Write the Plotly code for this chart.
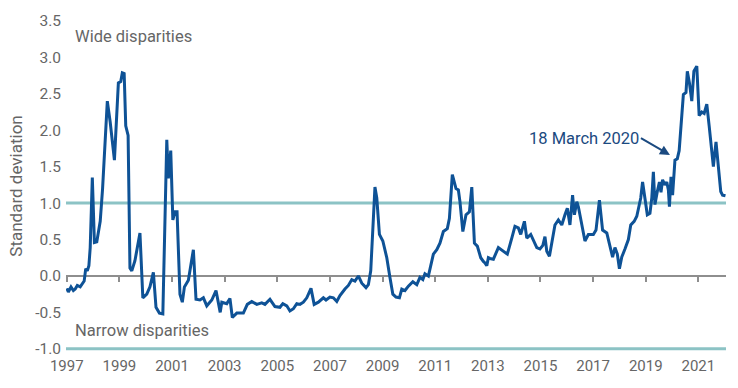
import plotly.graph_objects as go

# Decimal-year dates and standard-deviation values
dates = [
    1997.00, 1997.06, 1997.16, 1997.25, 1997.32, 1997.40, 1997.51, 1997.59, 1997.66, 1997.72,
    1997.78, 1997.84, 1997.89, 1997.97, 1998.05, 1998.14, 1998.27, 1998.36, 1998.54, 1998.65,
    1998.81, 1998.96, 1999.05, 1999.11, 1999.18, 1999.24, 1999.33, 1999.40, 1999.47, 1999.59,
    1999.78, 1999.89, 2000.04, 2000.16, 2000.29, 2000.39, 2000.52, 2000.65, 2000.80, 2000.86,
    2000.95, 2001.03, 2001.11, 2001.19, 2001.30, 2001.39, 2001.47, 2001.62, 2001.81, 2001.91,
    2002.06, 2002.19, 2002.32, 2002.51, 2002.67, 2002.83, 2002.89, 2003.08, 2003.20, 2003.29,
    2003.46, 2003.71, 2003.86, 2004.03, 2004.22, 2004.41, 2004.53, 2004.72, 2004.91, 2005.10,
    2005.21, 2005.36, 2005.48, 2005.61, 2005.74, 2005.86, 2005.99, 2006.12, 2006.28, 2006.40,
    2006.56, 2006.75, 2006.85, 2007.00, 2007.13, 2007.26, 2007.38, 2007.57, 2007.70, 2007.83,
    2007.95, 2008.08, 2008.21, 2008.37, 2008.46, 2008.55, 2008.63, 2008.71, 2008.78, 2008.88,
    2009.01, 2009.16, 2009.28, 2009.39, 2009.51, 2009.64, 2009.73, 2009.85, 2009.98, 2010.15,
    2010.30, 2010.42, 2010.53, 2010.61, 2010.74, 2010.83, 2010.93, 2011.06, 2011.18, 2011.31,
    2011.46, 2011.54, 2011.65, 2011.79, 2011.88, 2011.94, 2012.05, 2012.17, 2012.30, 2012.39,
    2012.49, 2012.60, 2012.73, 2012.83, 2012.89, 2012.96, 2013.02, 2013.08, 2013.21, 2013.40,
    2013.59, 2013.74, 2013.91, 2014.03, 2014.16, 2014.25, 2014.39, 2014.48, 2014.63, 2014.73,
    2014.86, 2014.98, 2015.09, 2015.17, 2015.24, 2015.34, 2015.43, 2015.55, 2015.68, 2015.81,
    2015.93, 2016.02, 2016.12, 2016.22, 2016.29, 2016.38, 2016.44, 2016.57, 2016.69, 2016.82,
    2017.01, 2017.11, 2017.24, 2017.36, 2017.52, 2017.64, 2017.74, 2017.83, 2017.92, 2018.00,
    2018.09, 2018.21, 2018.34, 2018.43, 2018.56, 2018.66, 2018.72, 2018.81, 2018.88, 2018.97,
    2019.06, 2019.16, 2019.23, 2019.29, 2019.35, 2019.44, 2019.52, 2019.58, 2019.64, 2019.73,
    2019.80, 2019.86, 2019.90, 2019.96, 2020.02, 2020.11, 2020.20, 2020.27, 2020.34, 2020.43,
    2020.53, 2020.58, 2020.66, 2020.75, 2020.83, 2020.94, 2021.03, 2021.13, 2021.22, 2021.32,
    2021.41, 2021.51, 2021.57, 2021.67, 2021.76, 2021.85, 2021.92, 2022.03,
]
std_dev = [
    -0.17, -0.22, -0.15, -0.20, -0.18, -0.13, -0.15, -0.10, -0.07, 0.10,
    0.07, 0.14, 0.39, 1.35, 0.46, 0.47, 0.75, 1.20, 2.40, 2.11,
    1.59, 2.65, 2.67, 2.79, 2.78, 2.06, 1.93, 0.11, 0.07, 0.21,
    0.59, -0.30, -0.25, -0.15, 0.05, -0.43, -0.51, -0.52, 1.87, 1.34,
    1.72, 0.77, 0.88, 0.88, -0.25, -0.36, -0.15, -0.06, 0.36, -0.32,
    -0.33, -0.30, -0.41, -0.33, -0.20, -0.50, -0.36, -0.38, -0.31, -0.57,
    -0.51, -0.51, -0.39, -0.35, -0.39, -0.37, -0.39, -0.32, -0.42, -0.43,
    -0.38, -0.41, -0.48, -0.45, -0.38, -0.39, -0.36, -0.30, -0.17, -0.39,
    -0.36, -0.30, -0.33, -0.29, -0.30, -0.35, -0.27, -0.18, -0.13, -0.05,
    -0.07, 0.00, -0.10, -0.16, -0.12, 0.07, 0.57, 1.22, 1.07, 0.57,
    0.48, 0.25, -0.02, -0.25, -0.29, -0.30, -0.18, -0.20, -0.14, -0.08,
    -0.12, -0.02, -0.05, 0.03, 0.00, 0.14, 0.30, 0.36, 0.45, 0.61,
    0.65, 0.79, 1.39, 1.20, 1.18, 1.02, 0.61, 0.84, 0.88, 1.22,
    0.45, 0.41, 0.25, 0.20, 0.18, 0.14, 0.25, 0.24, 0.23, 0.39,
    0.34, 0.30, 0.52, 0.68, 0.66, 0.57, 0.75, 0.52, 0.57, 0.48,
    0.39, 0.37, 0.42, 0.54, 0.34, 0.27, 0.48, 0.70, 0.77, 0.70,
    0.84, 0.93, 0.70, 1.11, 0.84, 1.02, 0.95, 0.73, 0.48, 0.57,
    0.57, 0.63, 1.04, 0.63, 0.59, 0.41, 0.26, 0.39, 0.30, 0.10,
    0.26, 0.37, 0.50, 0.70, 0.75, 0.82, 0.93, 1.07, 1.29, 1.07,
    0.84, 0.86, 1.07, 1.43, 0.98, 1.16, 1.29, 1.15, 1.32, 1.25,
    1.29, 1.18, 0.95, 1.36, 1.11, 1.59, 1.61, 1.72, 2.11, 2.49,
    2.52, 2.81, 2.65, 2.40, 2.81, 2.88, 2.20, 2.25, 2.23, 2.36,
    2.06, 1.70, 1.50, 1.84, 1.47, 1.16, 1.11, 1.10,
]

x_tick_vals = [1997, 1999, 2001, 2003, 2005, 2007, 2009, 2011, 2013, 2015, 2017, 2019, 2021]
x_tick_text = [str(v) for v in x_tick_vals]
y_tick_vals = [-1.0, -0.5, 0.0, 0.5, 1.0, 1.5, 2.0, 2.5, 3.0, 3.5]
y_tick_text = ["-1.0", "-0.5", "0.0", "0.5", "1.0", "1.5", "2.0", "2.5", "3.0", "3.5"]
threshold_lines = [1.0, -1.0]
event_date = 2019.92
event_value = 1.66
event_label = "18 March 2020"

X_RANGE = [1996.97, 2022.05]
Y_RANGE = [-1.03, 3.5]

BLUE = "#0E5296"
TEAL = "#8CC3C5"
GRAY_TEXT = "#666666"
GRAY_LINE = "#8E8E8E"
FONT = "Roboto"

fig = go.Figure()

fig.add_trace(go.Scatter(
    x=dates, y=std_dev, mode="lines",
    line=dict(color=BLUE, width=3),
    showlegend=False, hoverinfo="x+y",
))

# invisible trace to carry the zero-line axis with ticks
fig.add_trace(go.Scatter(
    x=dates, y=std_dev, mode="lines", xaxis="x2",
    line=dict(width=0, color="rgba(0,0,0,0)"),
    showlegend=False, hoverinfo="skip",
))

for yv in threshold_lines:
    fig.add_hline(y=yv, line=dict(color=TEAL, width=3), layer="below")

fig.add_annotation(
    text="Wide disparities", xref="paper", yref="y", x=0.011, y=3.29,
    xanchor="left", yanchor="middle", showarrow=False,
    font=dict(family=FONT, size=16.5, color=GRAY_TEXT),
)
fig.add_annotation(
    text="Narrow disparities", xref="paper", yref="y", x=0.011, y=-0.75,
    xanchor="left", yanchor="middle", showarrow=False,
    font=dict(family=FONT, size=16.5, color=GRAY_TEXT),
)
fig.add_annotation(
    text=event_label, x=event_date, y=event_value, xref="x", yref="y",
    showarrow=True, ax=-29, ay=-17, axref="pixel", ayref="pixel",
    xanchor="right", yanchor="middle",
    arrowhead=2, arrowsize=1, arrowwidth=2, arrowcolor="#1B4A80",
    font=dict(family=FONT, size=16.5, color="#1B4A80"),
)

fig.update_layout(
    width=738, height=388,
    margin=dict(l=66, r=12, t=18, b=37),
    paper_bgcolor="white", plot_bgcolor="white",
    font=dict(family=FONT, color=GRAY_TEXT),
    xaxis=dict(
        range=X_RANGE, tickvals=x_tick_vals, ticktext=x_tick_text,
        showgrid=False, zeroline=False, showline=False, ticks="",
        ticklabelstandoff=4,
        tickfont=dict(family=FONT, size=15, color=GRAY_TEXT),
    ),
    xaxis2=dict(
        range=X_RANGE, overlaying="x", anchor="free",
        position=(0 - Y_RANGE[0]) / (Y_RANGE[1] - Y_RANGE[0]),
        side="bottom", tickvals=x_tick_vals, showticklabels=False,
        ticks="outside", ticklen=5, tickwidth=2, tickcolor=GRAY_LINE,
        showline=True, linewidth=2, linecolor=GRAY_LINE,
        showgrid=False, zeroline=False, layer="below traces",
    ),
    yaxis=dict(
        range=Y_RANGE, tickvals=y_tick_vals, ticktext=y_tick_text,
        showgrid=False, zeroline=False, showline=False, ticks="",
        ticklabelstandoff=4,
        tickfont=dict(family=FONT, size=15.5, color=GRAY_TEXT),
        title=dict(text="Standard deviation", standoff=8,
                   font=dict(family=FONT, size=17, color=GRAY_TEXT)),
    ),
)

fig.write_html("out.html", config={"displayModeBar": False},
               post_script="document.body.style.margin='0';")
